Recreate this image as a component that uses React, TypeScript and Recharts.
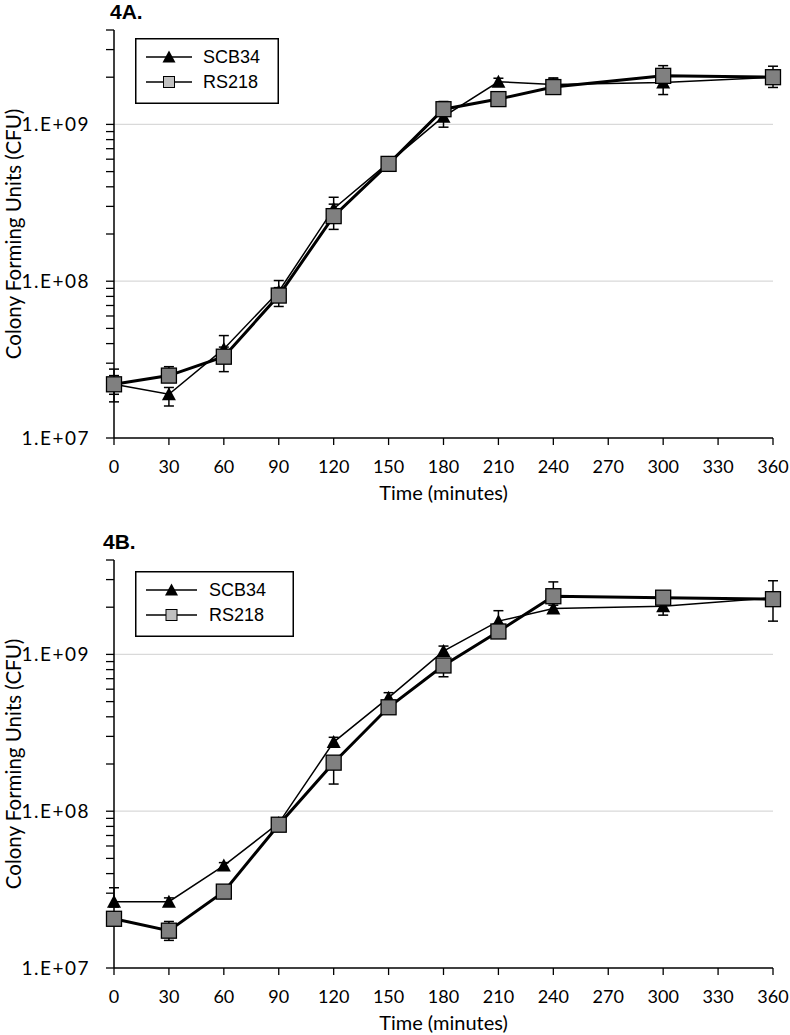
import React from 'react'
import { LineChart, Line, XAxis, YAxis, ReferenceLine, ErrorBar, Legend, Label } from 'recharts'

// sampling times (minutes); no sample at 270
const TIMES = [0, 30, 60, 90, 120, 150, 180, 210, 240, 300, 360]
const X_TICKS = [0, 30, 60, 90, 120, 150, 180, 210, 240, 270, 300, 330, 360]
const Y_TICKS = [
  1e7, 2e7, 3e7, 4e7, 5e7, 6e7, 7e7, 8e7, 9e7,
  1e8, 2e8, 3e8, 4e8, 5e8, 6e8, 7e8, 8e8, 9e8,
  1e9, 2e9, 3e9, 4e9,
]
const GRID_VALUES = [1e8, 1e9]
const SERIES_NAMES = ['SCB34', 'RS218']

// 4A
const SCB34_A = [2.2e7, 1.9e7, 3.7e7, 8.6e7, 2.9e8, 5.7e8, 1.12e9, 1.87e9, 1.8e9, 1.85e9, 2.0e9]
const RS218_A = [2.2e7, 2.5e7, 3.3e7, 8.1e7, 2.6e8, 5.6e8, 1.25e9, 1.45e9, 1.73e9, 2.04e9, 2.0e9]
const SCB34_A_ERR = [
  [0.5e7, 0.55e7], [0.3e7, 0.2e7], [0.4e7, 0.8e7], [0.8e7, 1.5e7], [0.4e8, 0.53e8], [0.3e8, 0.3e8],
  [1.6e8, 1.0e8], [0.1e9, 0.1e9], [0.1e9, 0.15e9], [3.0e8, 1.5e8], [1.5e8, 1.5e8],
]
const RS218_A_ERR = [
  [0.3e7, 0.3e7], [0.2e7, 0.35e7], [0.65e7, 0.5e7], [1.2e7, 1.0e7], [0.46e8, 0.5e8], [0.3e8, 0.2e8],
  [1.0e8, 1.5e8], [0.1e9, 0.1e9], [0.15e9, 0.25e9], [2.0e8, 3.3e8], [2.8e8, 3.5e8],
]

// 4B
const SCB34_B = [2.65e7, 2.65e7, 4.5e7, 8.4e7, 2.76e8, 5.3e8, 1.05e9, 1.63e9, 1.96e9, 2.03e9, 2.3e9]
const RS218_B = [2.06e7, 1.73e7, 3.07e7, 8.2e7, 2.04e8, 4.6e8, 8.5e8, 1.4e9, 2.35e9, 2.3e9, 2.25e9]
const SCB34_B_ERR = [
  [0.2e7, 0.6e7], [0.15e7, 0.15e7], [0.2e7, 0.2e7], [0.4e7, 0.4e7], [0.2e8, 0.2e8], [0.3e8, 0.4e8],
  [0.6e8, 0.8e8], [0.1e9, 0.27e9], [0.1e9, 0.1e9], [0.25e9, 0.1e9], [0.2e9, 0.65e9],
]
const RS218_B_ERR = [
  [0.1e7, 0.1e7], [0.23e7, 0.25e7], [0.1e7, 0.1e7], [0.3e7, 0.3e7], [0.55e8, 0.1e8], [0.2e8, 0.2e8],
  [1.3e8, 0.5e8], [0.1e9, 0.1e9], [0.1e9, 0.55e9], [0.1e9, 0.1e9], [0.62e9, 0.2e9],
]

const TICK_FONT = 'Lato, "Open Sans", sans-serif'
const LEGEND_FONT = '"Liberation Sans", Arial, sans-serif'

const makeRows = (scb: number[], rs: number[], scbErr: number[][], rsErr: number[][]) =>
  TIMES.map((t, i) => ({ time: t, scb: scb[i], rs: rs[i], scbErr: scbErr[i], rsErr: rsErr[i] }))

const formatPow = (v: number) => {
  const e = Math.round(Math.log10(v))
  return `1.E+${String(e).padStart(2, '0')}`
}

function YTick(props: any) {
  const { x, y, payload } = props
  const e = Math.log10(payload.value)
  if (Math.abs(e - Math.round(e)) > 1e-6) return <g />
  return (
    <text x={x} y={y} dy="0.36em" textAnchor="end" fill="#000" fontSize={19} fontFamily={TICK_FONT} letterSpacing={1.5}>
      {formatPow(payload.value)}
    </text>
  )
}

const triPath = (cx: number, cy: number, s: number) =>
  `M${cx},${cy - s * 0.5} L${cx + s * 0.5},${cy + s * 0.43} L${cx - s * 0.5},${cy + s * 0.43} Z`

function TriangleDot(props: any) {
  const { cx, cy } = props
  if (cx == null || cy == null) return null
  return <path d={triPath(cx, cy, 14)} fill="#000" />
}

function SquareDot(props: any) {
  const { cx, cy } = props
  if (cx == null || cy == null) return null
  return <rect x={cx - 7.5} y={cy - 7.5} width={15} height={15} fill="#808080" stroke="#000" strokeWidth={1.3} />
}

function legendContent(w: number, lineEnd: number, textX: number) {
  const mid = (11 + lineEnd) / 2
  return () => (
    <svg width={w} height={66} style={{ display: 'block' }}>
      <rect x={0.75} y={0.75} width={w - 1.5} height={64.5} fill="#fff" stroke="#000" strokeWidth={1.5} />
      <line x1={11} x2={lineEnd} y1={19} y2={19} stroke="#000" strokeWidth={1.5} />
      <path d={triPath(mid, 19, 13)} fill="#000" />
      <text x={textX} y={19} dy="0.36em" fontSize={18} fontFamily={LEGEND_FONT} fill="#000">{SERIES_NAMES[0]}</text>
      <line x1={11} x2={lineEnd} y1={44} y2={44} stroke="#000" strokeWidth={1.5} />
      <rect x={mid - 5.5} y={38.5} width={11} height={11} fill="#c0c0c0" stroke="#000" strokeWidth={1} />
      <text x={textX} y={44} dy="0.36em" fontSize={18} fontFamily={LEGEND_FONT} fill="#000">{SERIES_NAMES[1]}</text>
    </svg>
  )
}

type PanelProps = {
  title: string
  titleX: number
  top: number
  height: number
  data: any[]
  legendW: number
  legendTop: number
  lineEnd: number
  textX: number
}

function Panel({ title, titleX, top, height, data, legendW, legendTop, lineEnd, textX }: PanelProps) {
  return (
    <div style={{ position: 'absolute', left: 0, top, width: 790, height }}>
      <div
        style={{
          position: 'absolute', left: titleX, top: 1, fontFamily: LEGEND_FONT, fontWeight: 'bold',
          fontSize: 21, lineHeight: 1, color: '#000', zIndex: 2,
        }}
      >
        {title}
      </div>
      <LineChart width={790} height={height} data={data} margin={{ top: 30, right: 17, left: 0, bottom: height - 498 }}>
        {GRID_VALUES.map((v) => (
          <ReferenceLine key={v} y={v} stroke="#d9d9d9" strokeWidth={1.3} />
        ))}
        <XAxis
          dataKey="time"
          type="number"
          domain={[0, 360]}
          ticks={X_TICKS}
          interval={0}
          height={60}
          tickSize={7}
          tickMargin={15}
          axisLine={{ stroke: '#000', strokeWidth: 1.5 }}
          tickLine={{ stroke: '#000', strokeWidth: 1.3 }}
          tick={{ fill: '#000', fontSize: 18, fontFamily: TICK_FONT }}
        >
          <Label value="Time (minutes)" position="insideBottom" offset={-2} fill="#000" fontSize={20} fontFamily={TICK_FONT} />
        </XAxis>
        <YAxis
          scale="log"
          type="number"
          domain={[1e7, 4e9]}
          allowDataOverflow
          ticks={Y_TICKS}
          interval={0}
          width={114}
          tickSize={8}
          tickMargin={16}
          axisLine={{ stroke: '#000', strokeWidth: 1.5 }}
          tickLine={{ stroke: '#000', strokeWidth: 1.3 }}
          tick={<YTick />}
        >
          <Label
            value="Colony Forming Units (CFU)"
            angle={-90}
            position="insideLeft"
            offset={14}
            fill="#000"
            fontSize={20.5}
            fontFamily={TICK_FONT}
            style={{ textAnchor: 'middle' }}
          />
        </YAxis>
        <Legend
          layout="vertical"
          align="center"
          verticalAlign="middle"
          content={legendContent(legendW, lineEnd, textX)}
          wrapperStyle={{ left: 135, top: legendTop, width: legendW, height: 66 }}
        />
        <Line
          dataKey="scb"
          name={SERIES_NAMES[0]}
          stroke="#000"
          strokeWidth={1.5}
          isAnimationActive={false}
          dot={(p: any) => <TriangleDot key={`t-${p.index}`} {...p} />}
          activeDot={false}
        >
          <ErrorBar dataKey="scbErr" direction="y" width={5} stroke="#000" strokeWidth={1.5} isAnimationActive={false} />
        </Line>
        <Line
          dataKey="rs"
          name={SERIES_NAMES[1]}
          stroke="#000"
          strokeWidth={3}
          isAnimationActive={false}
          dot={(p: any) => <SquareDot key={`s-${p.index}`} {...p} />}
          activeDot={false}
        >
          <ErrorBar dataKey="rsErr" direction="y" width={5} stroke="#000" strokeWidth={1.5} isAnimationActive={false} />
        </Line>
      </LineChart>
    </div>
  )
}

export default function App() {
  const dataA = makeRows(SCB34_A, RS218_A, SCB34_A_ERR, RS218_A_ERR)
  const dataB = makeRows(SCB34_B, RS218_B, SCB34_B_ERR, RS218_B_ERR)
  return (
    <div style={{ position: 'absolute', left: 0, top: 0, width: 790, height: 1035, background: '#fff', overflow: 'hidden' }}>
      <Panel title="4A." titleX={110} top={0} height={540} data={dataA} legendW={144} legendTop={38} lineEnd={57} textX={68} />
      <Panel title="4B." titleX={103} top={530} height={505} data={dataB} legendW={159} legendTop={41} lineEnd={62} textX={74} />
    </div>
  )
}
